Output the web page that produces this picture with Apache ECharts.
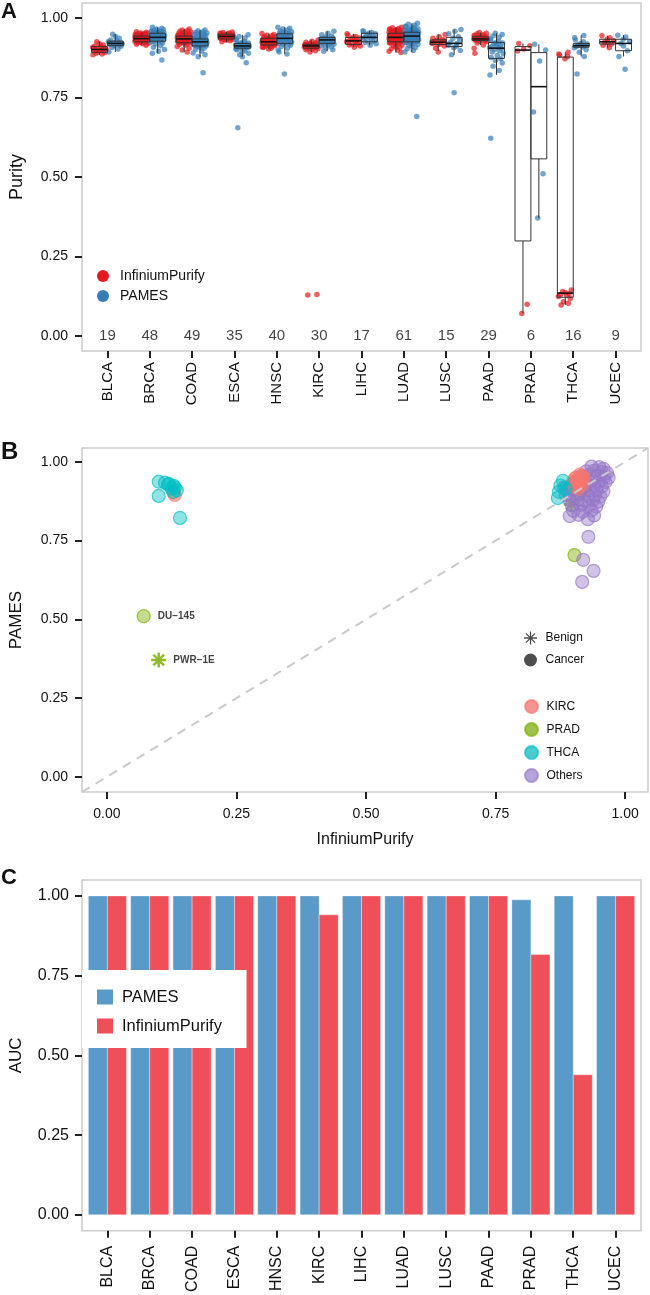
<!DOCTYPE html>
<html><head><meta charset="utf-8">
<script src="https://cdn.jsdelivr.net/npm/echarts@6/dist/echarts.min.js"></script>
<style>html,body{margin:0;padding:0;background:#fff}#c{width:650px;height:1295px}</style>
</head><body><div id="c"></div>
<script>
// ---------------- DATA ----------------
const categories = ['BLCA','BRCA','COAD','ESCA','HNSC','KIRC','LIHC','LUAD','LUSC','PAAD','PRAD','THCA','UCEC'];
const sampleCounts = [19,48,49,35,40,30,17,61,15,29,6,16,9];
const tickValues = [0,0.25,0.5,0.75,1];

// Panel A: purity estimates per sample
const ipPurity = [
 [0.884,0.887,0.889,0.891,0.893,0.895,0.896,0.898,0.900,0.901,0.902,0.904,0.906,0.908,0.910,0.912,0.915,0.919,0.925],
 [0.914,0.917,0.919,0.921,0.922,0.923,0.924,0.925,0.926,0.927,0.928,0.929,0.930,0.930,0.931,0.932,0.933,0.933,0.934,0.934,0.935,0.935,0.936,0.936,0.937,0.937,0.938,0.939,0.939,0.940,0.940,0.941,0.942,0.942,0.943,0.943,0.944,0.945,0.946,0.947,0.948,0.949,0.950,0.951,0.952,0.953,0.955,0.957],
 [0.893,0.899,0.905,0.910,0.914,0.917,0.919,0.921,0.922,0.923,0.924,0.925,0.926,0.927,0.928,0.929,0.930,0.931,0.932,0.933,0.933,0.934,0.934,0.935,0.935,0.936,0.937,0.938,0.939,0.940,0.940,0.941,0.942,0.942,0.943,0.944,0.945,0.946,0.947,0.948,0.950,0.951,0.952,0.954,0.956,0.958,0.960,0.962,0.965],
 [0.925,0.928,0.930,0.932,0.933,0.934,0.935,0.936,0.937,0.938,0.939,0.939,0.940,0.940,0.941,0.941,0.942,0.942,0.943,0.943,0.944,0.944,0.945,0.945,0.946,0.947,0.948,0.949,0.949,0.950,0.951,0.952,0.953,0.954,0.956],
 [0.902,0.905,0.907,0.909,0.911,0.912,0.913,0.914,0.915,0.916,0.917,0.918,0.919,0.920,0.921,0.922,0.923,0.924,0.924,0.925,0.925,0.926,0.927,0.928,0.929,0.930,0.931,0.932,0.933,0.934,0.935,0.936,0.937,0.938,0.940,0.942,0.944,0.946,0.948,0.951],
 [0.129,0.131,0.893,0.897,0.900,0.902,0.904,0.905,0.906,0.907,0.908,0.909,0.910,0.911,0.911,0.912,0.912,0.913,0.913,0.914,0.915,0.916,0.917,0.918,0.919,0.920,0.922,0.924,0.927,0.931],
 [0.908,0.912,0.915,0.917,0.919,0.922,0.925,0.927,0.928,0.930,0.932,0.934,0.937,0.939,0.942,0.946,0.950],
 [0.891,0.895,0.899,0.903,0.906,0.909,0.912,0.915,0.917,0.919,0.921,0.922,0.923,0.924,0.925,0.926,0.927,0.928,0.929,0.930,0.931,0.932,0.933,0.934,0.935,0.936,0.937,0.938,0.938,0.939,0.939,0.940,0.941,0.942,0.943,0.944,0.945,0.946,0.947,0.948,0.949,0.950,0.951,0.952,0.952,0.953,0.954,0.955,0.956,0.957,0.958,0.959,0.960,0.961,0.962,0.963,0.964,0.965,0.967,0.969,0.971],
 [0.893,0.905,0.912,0.916,0.918,0.920,0.922,0.924,0.926,0.928,0.930,0.932,0.936,0.941,0.948],
 [0.889,0.905,0.915,0.921,0.925,0.927,0.929,0.930,0.931,0.932,0.933,0.933,0.934,0.934,0.935,0.936,0.937,0.938,0.939,0.940,0.941,0.942,0.943,0.944,0.946,0.948,0.950,0.952,0.954],
 [0.071,0.100,0.896,0.902,0.913,0.920],
 [0.098,0.103,0.108,0.118,0.124,0.128,0.131,0.134,0.136,0.140,0.145,0.872,0.879,0.883,0.887,0.892],
 [0.906,0.914,0.918,0.921,0.925,0.928,0.933,0.938,0.944]
];
const pamesPurity = [
 [0.893,0.902,0.907,0.911,0.913,0.915,0.917,0.918,0.919,0.920,0.921,0.922,0.924,0.926,0.928,0.931,0.936,0.942,0.949],
 [0.868,0.889,0.895,0.901,0.908,0.913,0.918,0.921,0.924,0.926,0.927,0.928,0.930,0.931,0.932,0.933,0.934,0.935,0.936,0.937,0.938,0.939,0.939,0.940,0.941,0.942,0.943,0.944,0.945,0.946,0.947,0.948,0.949,0.950,0.951,0.952,0.953,0.954,0.955,0.956,0.957,0.958,0.959,0.961,0.963,0.965,0.968,0.971],
 [0.828,0.878,0.884,0.890,0.896,0.901,0.905,0.908,0.910,0.912,0.913,0.914,0.915,0.916,0.917,0.918,0.919,0.920,0.921,0.922,0.923,0.924,0.924,0.925,0.925,0.926,0.927,0.928,0.929,0.930,0.930,0.931,0.932,0.933,0.934,0.935,0.937,0.939,0.941,0.943,0.945,0.947,0.949,0.951,0.953,0.955,0.957,0.960,0.962],
 [0.655,0.859,0.878,0.884,0.889,0.893,0.897,0.900,0.903,0.905,0.906,0.907,0.908,0.909,0.910,0.911,0.911,0.912,0.912,0.913,0.914,0.915,0.916,0.917,0.918,0.919,0.920,0.921,0.923,0.926,0.929,0.933,0.937,0.942,0.947],
 [0.824,0.887,0.893,0.899,0.905,0.910,0.914,0.917,0.919,0.920,0.921,0.923,0.925,0.927,0.929,0.931,0.932,0.933,0.934,0.935,0.936,0.937,0.938,0.939,0.940,0.941,0.943,0.945,0.947,0.949,0.950,0.951,0.953,0.955,0.957,0.959,0.962,0.965,0.968,0.971],
 [0.895,0.900,0.905,0.909,0.912,0.915,0.917,0.919,0.920,0.921,0.923,0.925,0.926,0.927,0.928,0.929,0.930,0.931,0.931,0.932,0.933,0.934,0.935,0.936,0.938,0.940,0.943,0.947,0.952,0.958],
 [0.914,0.919,0.923,0.925,0.928,0.931,0.935,0.937,0.939,0.941,0.944,0.947,0.950,0.952,0.954,0.957,0.960],
 [0.690,0.893,0.898,0.903,0.907,0.911,0.914,0.917,0.919,0.921,0.923,0.924,0.925,0.926,0.927,0.928,0.929,0.930,0.931,0.932,0.933,0.935,0.936,0.937,0.938,0.939,0.940,0.941,0.942,0.943,0.943,0.944,0.945,0.946,0.947,0.948,0.949,0.950,0.951,0.952,0.953,0.954,0.955,0.955,0.956,0.957,0.958,0.959,0.960,0.961,0.962,0.963,0.964,0.966,0.968,0.970,0.972,0.974,0.977,0.980,0.983],
 [0.765,0.884,0.898,0.906,0.911,0.914,0.917,0.920,0.924,0.930,0.936,0.941,0.950,0.958,0.964],
 [0.622,0.821,0.835,0.848,0.858,0.866,0.872,0.876,0.882,0.888,0.893,0.897,0.901,0.904,0.906,0.908,0.910,0.913,0.916,0.919,0.921,0.923,0.926,0.930,0.934,0.939,0.943,0.948,0.952],
 [0.371,0.510,0.704,0.865,0.899,0.917],
 [0.824,0.879,0.892,0.900,0.906,0.909,0.911,0.913,0.914,0.916,0.918,0.920,0.925,0.931,0.938,0.945],
 [0.839,0.879,0.897,0.912,0.920,0.926,0.933,0.940,0.946]
];
// box stats: [lower whisker, Q1, median, Q3, upper whisker]
const ipBox = [
 [0.884,0.892,0.901,0.910,0.925],[0.914,0.925,0.935,0.943,0.957],[0.893,0.922,0.934,0.943,0.965],
 [0.925,0.934,0.942,0.949,0.956],[0.902,0.915,0.925,0.936,0.951],[0.893,0.905,0.912,0.917,0.931],
 [0.908,0.917,0.928,0.939,0.950],[0.891,0.925,0.939,0.952,0.971],[0.896,0.917,0.924,0.931,0.948],
 [0.915,0.929,0.934,0.941,0.954],[0.071,0.299,0.899,0.910,0.920],[0.098,0.122,0.135,0.877,0.892],
 [0.906,0.918,0.925,0.933,0.944]
];
const pamesBox = [
 [0.893,0.913,0.920,0.927,0.949],[0.889,0.927,0.939,0.952,0.971],[0.878,0.912,0.925,0.934,0.962],
 [0.878,0.905,0.912,0.920,0.947],[0.887,0.920,0.936,0.950,0.971],[0.895,0.920,0.931,0.939,0.958],
 [0.914,0.925,0.939,0.952,0.960],[0.893,0.925,0.943,0.955,0.983],[0.884,0.910,0.920,0.939,0.964],
 [0.821,0.873,0.905,0.923,0.952],[0.371,0.557,0.784,0.891,0.917],[0.879,0.908,0.913,0.920,0.945],
 [0.879,0.897,0.920,0.933,0.946]
];

// Panel B: [InfiniumPurify, PAMES] per sample
const bOthers = [
 [0.935,0.985],[0.950,0.983],[0.958,0.978],
 [0.925,0.970],[0.940,0.972],[0.955,0.968],[0.965,0.965],
 [0.915,0.955],[0.930,0.958],[0.945,0.955],[0.960,0.952],[0.968,0.950],
 [0.905,0.940],[0.920,0.942],[0.935,0.940],[0.950,0.938],[0.962,0.936],
 [0.895,0.925],[0.910,0.928],[0.925,0.926],[0.940,0.924],[0.955,0.922],
 [0.888,0.910],[0.900,0.912],[0.915,0.910],[0.930,0.908],[0.945,0.910],[0.958,0.906],
 [0.885,0.895],[0.898,0.893],[0.912,0.896],[0.928,0.892],[0.942,0.894],[0.952,0.890],
 [0.893,0.878],[0.908,0.880],[0.922,0.876],[0.938,0.879],[0.948,0.874],
 [0.897,0.862],[0.915,0.864],[0.930,0.860],[0.944,0.858],
 [0.900,0.845],[0.918,0.842],[0.935,0.846],
 [0.893,0.828],[0.910,0.832],[0.928,0.818],[0.940,0.830],
 [0.882,0.918],
 [0.929,0.762],[0.919,0.689],[0.939,0.654],[0.917,0.619]
];
const bKIRC = [
 [0.900,0.935],[0.905,0.950],[0.910,0.945],[0.912,0.930],[0.915,0.955],[0.908,0.925],[0.918,0.940],
 [0.903,0.920],[0.913,0.960],[0.906,0.940],[0.916,0.925],[0.910,0.915],[0.920,0.950],[0.902,0.945],
 [0.131,0.895],[0.129,0.902]
];
const bTHCA = [
 [0.100,0.937],[0.112,0.934],[0.129,0.924],[0.131,0.918],[0.100,0.892],[0.141,0.822],
 [0.120,0.930],[0.125,0.915],[0.118,0.928],[0.135,0.910],[0.128,0.905],
 [0.872,0.905],[0.875,0.925],[0.880,0.940],[0.870,0.885],[0.885,0.915]
];
const bPRADCancer = [[0.071,0.510],[0.902,0.704],[0.913,0.899],[0.920,0.917]];
const bPRADCancerLabels = ['DU\u2212145','','',''];
const bPRADBenign = [[0.100,0.371],[0.896,0.865]];
const bPRADBenignLabels = ['PWR\u22121E',''];

// Panel C: AUC
const aucPAMES = [1,1,1,1,1,1,1,1,1,1,0.988,1,1];
const aucIP    = [1,1,1,1,1,0.941,1,1,1,1,0.816,0.439,1];

// ---------------- STYLE ----------------
const FONT = 'Liberation Sans, Arial, Helvetica, sans-serif';
const TXT = '#111';
const catPos = categories.map((c,i)=>i+1);
const JIT = [-0.85,0.35,-0.45,0.75,-0.15,0.55,-0.7,0.1,0.9,-0.55,0.4,-0.25,0.65,-0.9,0.2,-0.6,0.5,0.0,-0.35,0.8,-0.05,0.3,-0.75];
const STAR = 'path://M-10 -1L10 -1L10 1L-10 1Z M-1 -10L1 -10L1 10L-1 10Z M-6.36 -7.78L7.78 6.36L6.36 7.78L-7.78 -6.36Z M-7.78 6.36L6.36 -7.78L7.78 -6.36L-6.36 7.78Z';

function catX(grid, fs, margin){
  return {gridIndex:grid, type:'value', min:0.4, max:13.6,
    splitLine:{show:false}, axisLine:{show:false,onZero:false},
    axisTick:{show:true,length:7,customValues:catPos,lineStyle:{color:'#222',width:2}},
    axisLabel:{customValues:catPos,rotate:90,fontSize:fs,color:TXT,fontFamily:FONT,margin:margin,
      formatter:v=>categories[Math.round(v)-1]}};
}
function valAxis(grid, min, max, fs, margin, name, nameGap, nameFs){
  return {gridIndex:grid, type:'value', min:min, max:max,
    splitLine:{show:false}, axisLine:{show:false,onZero:false},
    axisTick:{show:true,length:7,customValues:tickValues,lineStyle:{color:'#222',width:2}},
    axisLabel:{customValues:tickValues,fontSize:fs,color:TXT,fontFamily:FONT,margin:margin,
      formatter:v=>v.toFixed(2)},
    name:name, nameLocation:'middle', nameGap:nameGap,
    nameTextStyle:{fontSize:nameFs,color:TXT,fontFamily:FONT}};
}

function jitterPoints(arrs, offset){
  const out=[];
  arrs.forEach((vals,i)=>vals.forEach((v,k)=>out.push([i+1+offset+JIT[(k+i*5)%JIT.length]*0.18, v])));
  return out;
}
function boxSeries(stats, offset){
  return {type:'custom', name:'box', xAxisIndex:0, yAxisIndex:0, z:5,
    data: stats.map((s,i)=>[i+1].concat(s)),
    encode:{x:0,y:[1,2,3,4,5]},
    renderItem:function(p,api){
      const x=api.value(0)+offset;
      const lo=api.coord([x,api.value(1)]), q1=api.coord([x,api.value(2)]),
            md=api.coord([x,api.value(3)]), q3=api.coord([x,api.value(4)]), hi=api.coord([x,api.value(5)]);
      const w=api.size([0.375,0])[0];
      const st={stroke:'#333',lineWidth:1,fill:null};
      return {type:'group',children:[
        {type:'line',shape:{x1:lo[0],y1:lo[1],x2:q1[0],y2:q1[1]},style:st},
        {type:'line',shape:{x1:q3[0],y1:q3[1],x2:hi[0],y2:hi[1]},style:st},
        {type:'rect',shape:{x:q3[0]-w/2,y:q3[1],width:w,height:q1[1]-q3[1]},style:{stroke:'#333',lineWidth:1,fill:'rgba(255,255,255,0)'}},
        {type:'line',shape:{x1:md[0]-w/2,y1:md[1],x2:md[0]+w/2,y2:md[1]},style:{stroke:'#111',lineWidth:1.6}}
      ]};
    }};
}
function barSeries(name, vals, offset, color){
  return {type:'custom', name:name, xAxisIndex:2, yAxisIndex:2,
    data: vals.map((v,i)=>[i+1,v]), encode:{x:0,y:1},
    renderItem:function(p,api){
      const x=api.value(0)+offset;
      const a=api.coord([x-0.225,api.value(1)]), b=api.coord([x+0.225,0]);
      return {type:'rect',shape:{x:a[0],y:a[1],width:b[0]-a[0],height:b[1]-a[1]},
        style:{fill:color,stroke:'rgba(255,255,255,0.6)',lineWidth:0.6}};
    }};
}
function bScatter(name, data, fill, stroke, symbol, size, labels){
  return {type:'scatter', name:name, xAxisIndex:1, yAxisIndex:1, symbol:symbol||'circle', symbolSize:size||13,
    data: data.map((d,k)=>({value:d, label:{show:!!(labels&&labels[k]), formatter:labels?labels[k]:''}})),
    itemStyle:{color:fill, borderColor:stroke, borderWidth:1.2},
    label:{position:'right',distance:7,fontSize:10,fontWeight:'bold',color:TXT,fontFamily:FONT},
    emphasis:{disabled:true}};
}

const chart = echarts.init(document.getElementById('c'), null, {renderer:'canvas'});
const option = {
  animation:false,
  backgroundColor:'#fff',
  textStyle:{fontFamily:FONT},
  grid:[
    {left:77, top:3, width:564, height:348, show:true, borderColor:'#cccccc', borderWidth:1.5, backgroundColor:'#fff'},
    {left:80, top:448, width:568, height:344, show:true, borderColor:'#cccccc', borderWidth:1.5, backgroundColor:'#fff'},
    {left:80, top:880, width:561, height:353, show:true, borderColor:'#cccccc', borderWidth:1.5, backgroundColor:'#fff'}
  ],
  xAxis:[
    catX(0,15,11),
    valAxis(1,-0.048,1.044,14,15,'InfiniumPurify',40,16),
    catX(2,16,15)
  ],
  yAxis:[
    valAxis(0,-0.047,1.047,14,14,'Purity',56,18),
    valAxis(1,-0.048,1.044,14,14,'PAMES',57,17),
    valAxis(2,-0.05,1.05,16,13,'AUC',57,17)
  ],
  legend:[
    {orient:'vertical',left:97,top:268,padding:0,itemWidth:24,itemHeight:12,itemGap:4,selectedMode:false,
     textStyle:{fontSize:14,color:TXT,fontFamily:FONT,lineHeight:16},
     data:[{name:'InfiniumPurify',icon:'circle',itemStyle:{color:'#E41A1C',opacity:1}},
           {name:'PAMES',icon:'circle',itemStyle:{color:'#377EB8',opacity:1}}]},
    {orient:'vertical',left:524,top:631,padding:0,itemWidth:20,itemHeight:13,itemGap:8,selectedMode:false,
     textStyle:{fontSize:12,color:TXT,fontFamily:FONT,lineHeight:14},
     data:[{name:'Benign',icon:STAR,itemStyle:{color:'#222'}},{name:'Cancer',icon:'circle',itemStyle:{color:'#222'}}]},
    {orient:'vertical',left:524,top:699,padding:0,itemWidth:20,itemHeight:13,itemGap:8,selectedMode:false,
     textStyle:{fontSize:12,color:TXT,fontFamily:FONT,lineHeight:14},
     data:[{name:'KIRC',icon:'circle',itemStyle:{color:'#F37B74'}},{name:'PRAD',icon:'circle',itemStyle:{color:'#85B31C'}},
           {name:'THCA',icon:'circle',itemStyle:{color:'#1DBFC3'}},{name:'Others',icon:'circle',itemStyle:{color:'#A48BD3'}}]},
    {orient:'vertical',left:82,top:970,padding:[18,20,13,15],itemWidth:16,itemHeight:15,itemGap:11,selectedMode:false,
     backgroundColor:'#fff',
     textStyle:{fontSize:16.5,color:TXT,fontFamily:FONT,lineHeight:18,padding:[0,0,0,4]},
     data:[{name:'PAMES ',icon:'rect',itemStyle:{color:'#5A9AC9'}},{name:'InfiniumPurify ',icon:'rect',itemStyle:{color:'#EF4F59'}}]}
  ],
  graphic:[
    {type:'text',left:1,top:1,style:{text:'A',font:'bold 22px '+FONT,fill:'#111'}},
    {type:'text',left:1,top:440,style:{text:'B',font:'bold 24px '+FONT,fill:'#111'}},
    {type:'text',left:1,top:867,style:{text:'C',font:'bold 22px '+FONT,fill:'#111'}}
  ],
  series:[
    // Panel A
    {type:'scatter',name:'InfiniumPurify',xAxisIndex:0,yAxisIndex:0,symbolSize:5.5,
     data:jitterPoints(ipPurity,-0.1875),itemStyle:{color:'#E41A1C',opacity:0.7},emphasis:{disabled:true}},
    {type:'scatter',name:'PAMES',xAxisIndex:0,yAxisIndex:0,symbolSize:5.5,
     data:jitterPoints(pamesPurity,0.1875),itemStyle:{color:'#377EB8',opacity:0.7},emphasis:{disabled:true}},
    boxSeries(ipBox,-0.1875),
    boxSeries(pamesBox,0.1875),
    {type:'scatter',name:'counts',xAxisIndex:0,yAxisIndex:0,symbolSize:0,silent:true,
     data:sampleCounts.map((n,i)=>[i+1,0]),
     label:{show:true,position:'inside',formatter:p=>String(sampleCounts[p.dataIndex]),fontSize:15,color:TXT,fontFamily:FONT}},
    // Panel B
    {type:'line',name:'diag',xAxisIndex:1,yAxisIndex:1,data:[[-0.048,-0.048],[1.044,1.044]],symbol:'none',silent:true,
     lineStyle:{color:'#c9c9c9',width:2,type:[9,7]}},
    {type:'scatter',name:'Benign',xAxisIndex:1,yAxisIndex:1,data:[]},
    {type:'scatter',name:'Cancer',xAxisIndex:1,yAxisIndex:1,data:[]},
    bScatter('PRAD',bPRADCancer,'rgba(124,174,0,0.55)','rgba(124,174,0,0.85)','circle',13,bPRADCancerLabels),
    bScatter('PRAD',bPRADBenign,'rgba(124,174,0,0.7)','rgba(124,174,0,0.9)',STAR,14,bPRADBenignLabels),
    bScatter('Others',bOthers,'rgba(150,118,200,0.55)','rgba(150,118,200,0.85)'),
    bScatter('KIRC',bKIRC,'rgba(248,118,109,0.55)','rgba(248,118,109,0.85)'),
    bScatter('THCA',bTHCA,'rgba(0,191,196,0.55)','rgba(0,191,196,0.85)'),
    // Panel C
    barSeries('PAMES ',aucPAMES,-0.225,'#5A9AC9'),
    barSeries('InfiniumPurify ',aucIP,0.225,'#EF4F59')
  ]
};
chart.setOption(option);
</script>
</body></html>
